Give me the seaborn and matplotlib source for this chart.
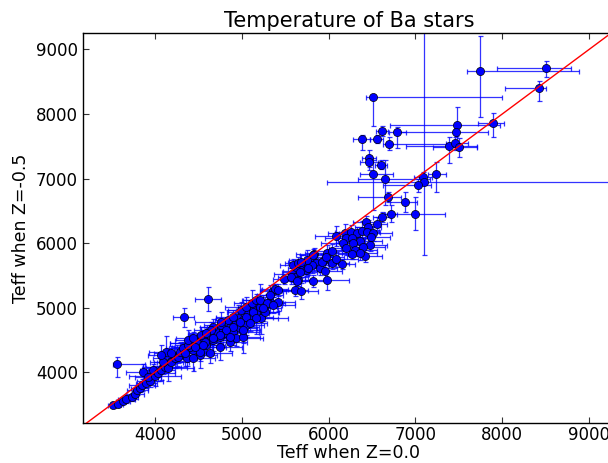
import matplotlib
matplotlib.use("Agg")
import numpy as np
import matplotlib.pyplot as plt
import seaborn as sns

# bright / hot stars, asymmetric errors
bright_z00 = [7741, 8497, 8420, 6513, 7890, 7480, 7468, 6793, 6616, 6379,
              6563, 6690, 7388, 7457, 7503, 6464, 6464, 6602, 6506, 6655,
              7242, 7088, 7096, 7027, 6685, 6881, 3566]
bright_z05 = [8664, 8711, 8401, 8262, 7859, 7823, 7725, 7725, 7740, 7611,
              7611, 7534, 7508, 7545, 7492, 7322, 7260, 7214, 7074, 6988,
              7074, 7028, 6946, 6894, 6718, 6636, 4124]
bright_z00_lo = [150, 564, 384, 77, 169, 776, 707, 100, 65, 96,
                 90, 61, 492, 100, 300, 80, 100, 70, 146, 315,
                 96, 100, 1110, 400, 346, 177, 50]
bright_z00_hi = [1144, 288, 88, 1478, 130, 492, 369, 100, 70, 96,
                 65, 707, 315, 150, 200, 80, 100, 70, 238, 510,
                 108, 100, 3000, 150, 154, 131, 319]
bright_z05_lo = [707, 134, 196, 444, 212, 279, 60, 258, 82, 170,
                 60, 93, 273, 100, 155, 191, 80, 70, 560, 400,
                 289, 80, 1135, 100, 80, 150, 191]
bright_z05_hi = [542, 113, 114, 0, 150, 279, 60, 77, 72, 60,
                 60, 113, 139, 100, 129, 119, 80, 70, 212, 300,
                 186, 80, 3000, 100, 80, 150, 119]

# the main sequence of stars, symmetric errors
teff_z00 = [6993, 6713, 6616, 6555, 6429, 6455, 6190, 6256, 6322, 6386,
            6443, 6513, 6483, 6206, 6264, 6360, 6475, 6167, 6282, 6398,
            6206, 6302, 6264, 6417, 6149, 6091, 6360, 5830, 5983, 6045,
            5937, 6034, 5861, 5807, 5746, 5688, 5631, 5577, 5615, 5650,
            5485, 5899, 5957, 5822, 5983, 5611, 5680, 5738,
            5573, 5669, 5631, 5765, 5919, 5822, 5976, 6091, 5362, 5381,
            5592, 5650, 5688, 5419, 5324, 5266,
            4334, 4613,
            4365, 4441, 4422, 4498, 4556, 4518, 4595, 4633, 4671, 4710,
            4748, 4786, 4825, 4863, 4901, 4940, 4978, 4959, 5016, 5055,
            5074, 5113, 5131, 5170, 5208, 5228, 5266, 5304, 4671, 4767,
            4844, 4901, 4997, 5055, 5113, 5170, 4748, 4863, 4940, 5016,
            4633, 4518, 4365,
            5209, 5286, 5362, 5247, 5131, 5055, 5170, 5093, 4978, 4901,
            5016, 4825, 4748, 4863, 4671, 4575, 4480, 4403, 4518, 4326,
            4250, 4173, 4096, 4441, 5324, 5419, 4767, 4652,
            3520, 3578, 3635, 3674, 3732, 3770, 3797, 3827, 3858, 3904,
            3942, 3865, 3923, 4000, 3981, 4038, 4077, 4115, 4153, 4096,
            4134, 4077, 4192, 4230, 4268, 4192, 4288, 4326, 4345, 4383,
            4460, 4383, 4441, 4537, 4556, 4595]
teff_z05 = [6455, 6455, 6409, 6300, 6322, 6254, 6152, 6167, 6152, 6192,
            6177, 6152, 6099, 6074, 6074, 6033, 5971, 5997, 5997, 5944,
            5920, 5893, 5831, 5800, 5676, 6110, 5842, 5831, 5851, 5882,
            5728, 5697, 5697, 5661, 5739, 5610, 5573, 5522, 5480, 5429,
            5444, 5610, 5573, 5413, 5429, 5274, 5258, 5584,
            5471, 5557, 5418, 5610, 5712, 5816, 5790, 5749, 5264, 5289,
            5661, 5687, 5712, 5094, 5094, 5042,
            4851, 5135,
            4372, 4345, 4449, 4474, 4526, 4397, 4423, 4577, 4500, 4629,
            4552, 4655, 4604, 4706, 4629, 4758, 4681, 4836, 4810, 4732,
            4913, 4861, 4964, 4913, 5016, 4836, 4938, 5068, 4706, 4732,
            4810, 4861, 4964, 5016, 5068, 5119, 4397, 4474, 4526, 4552,
            4294, 4268, 4217,
            5119, 5068, 5042, 4991, 4938, 4861, 4836, 4758, 4783, 4706,
            4655, 4655, 4577, 4552, 4526, 4474, 4449, 4397, 4319, 4319,
            4242, 4164, 4087, 4217, 5197, 5274, 4783, 4655,
            3494, 3505, 3556, 3587, 3622, 3664, 3726, 3752, 3803, 3839,
            3870, 4009, 3932, 3943, 4036, 3984, 4036, 4087, 4062, 4164,
            4319, 4268, 4164, 4217, 4242, 4294, 4319, 4372, 4294, 4423,
            4397, 4500, 4526, 4577, 4423, 4604]
err_z00 = [345, 80, 100, 120, 150, 150, 200, 180, 200, 200,
           150, 220, 220, 250, 150, 250, 200, 250, 200, 250,
           200, 250, 150, 200, 150, 250, 200, 200, 250, 220,
           150, 200, 150, 200, 200, 150, 150, 200, 150, 180,
           120, 200, 200, 150, 250, 150, 200, 150,
           150, 200, 150, 150, 200, 150, 200, 250, 150, 150,
           150, 150, 150, 200, 150, 200,
           120, 150,
           200, 150, 250, 150, 200, 300, 150, 200, 250, 150,
           200, 250, 150, 200, 300, 150, 200, 250, 150, 200,
           150, 250, 200, 150, 200, 300, 150, 200, 150, 200,
           150, 200, 150, 250, 200, 150, 250, 200, 300, 200,
           250, 200, 150,
           200, 150, 250, 200, 300, 150, 250, 200, 150, 300,
           200, 250, 150, 200, 250, 150, 300, 200, 150, 250,
           200, 150, 200, 250, 150, 200, 300, 200,
           60, 60, 80, 100, 80, 100, 120, 100, 150, 120,
           150, 200, 150, 300, 150, 200, 150, 250, 300, 150,
           200, 150, 200, 250, 150, 200, 150, 200, 250, 150,
           200, 150, 200, 150, 250, 200]
err_z05 = [258, 130, 80, 100, 100, 100, 150, 120, 100, 150,
           100, 120, 100, 100, 80, 120, 100, 100, 150, 120,
           100, 100, 80, 100, 80, 150, 100, 100, 120, 100,
           100, 100, 80, 120, 150, 100, 100, 120, 100, 100,
           80, 100, 120, 100, 150, 100, 120, 100,
           100, 100, 80, 100, 120, 100, 100, 120, 100, 80,
           100, 100, 100, 150, 100, 120,
           150, 190,
           120, 100, 150, 100, 120, 150, 100, 150, 200, 100,
           120, 150, 100, 150, 200, 100, 120, 200, 100, 150,
           120, 150, 100, 150, 120, 250, 100, 150, 120, 100,
           150, 100, 120, 150, 200, 100, 200, 150, 120, 250,
           150, 100, 120,
           250, 150, 120, 200, 100, 150, 250, 120, 100, 150,
           200, 120, 150, 100, 200, 120, 150, 100, 250, 120,
           150, 100, 120, 200, 150, 100, 150, 120,
           40, 40, 50, 60, 60, 80, 80, 60, 100, 80,
           100, 120, 100, 150, 100, 120, 150, 100, 200, 120,
           250, 150, 100, 150, 100, 120, 150, 100, 200, 100,
           120, 150, 100, 120, 150, 100]

assert len(teff_z00) == len(teff_z05) == len(err_z00) == len(err_z05)

sns.set_style("ticks")
plt.rcParams["font.family"] = ["DejaVu Sans"]
plt.rcParams["text.color"] = "black"
plt.rcParams["axes.labelcolor"] = "black"
plt.rcParams["xtick.color"] = "black"
plt.rcParams["ytick.color"] = "black"
plt.rcParams["xtick.direction"] = "in"
plt.rcParams["ytick.direction"] = "in"
plt.rcParams["xtick.top"] = True
plt.rcParams["ytick.right"] = True

fig = plt.figure(figsize=(6.08, 4.63), dpi=100)
ax = fig.add_axes([0.136, 0.0857, 0.876, 0.8436])

bar_kw = dict(fmt="none", ecolor="blue", elinewidth=0.9, capsize=1.8,
              capthick=0.9, alpha=0.8, zorder=2)
ax.errorbar(teff_z00, teff_z05, xerr=err_z00, yerr=err_z05, **bar_kw)
ax.errorbar(bright_z00, bright_z05,
            xerr=[bright_z00_lo, bright_z00_hi],
            yerr=[bright_z05_lo, bright_z05_hi], **bar_kw)

all_z00 = np.concatenate([teff_z00, bright_z00])
all_z05 = np.concatenate([teff_z05, bright_z05])
sns.scatterplot(x=all_z00, y=all_z05, ax=ax, color="blue", edgecolor="black",
                linewidth=0.5, s=34, zorder=3)

ax.axline((4000, 4000), slope=1, color="red", lw=1, zorder=4)

ax.set_xlim(3170, 9300)
ax.set_ylim(3210, 9257)
ax.set_xticks([4000, 5000, 6000, 7000, 8000, 9000])
ax.set_yticks([4000, 5000, 6000, 7000, 8000, 9000])
ax.tick_params(labelsize=12, length=4, width=0.8, color="#333333")
ax.tick_params(axis="x", pad=2)
for sp in ax.spines.values():
    sp.set_color("black")
    sp.set_linewidth(1)

ax.set_title("Temperature of Ba stars", fontsize=15, pad=4)
ax.set_xlabel("Teff when Z=0.0", fontsize=12.5, labelpad=0)
ax.set_ylabel("Teff when Z=-0.5", fontsize=12.5)

fig.savefig("out.png", dpi=100)
